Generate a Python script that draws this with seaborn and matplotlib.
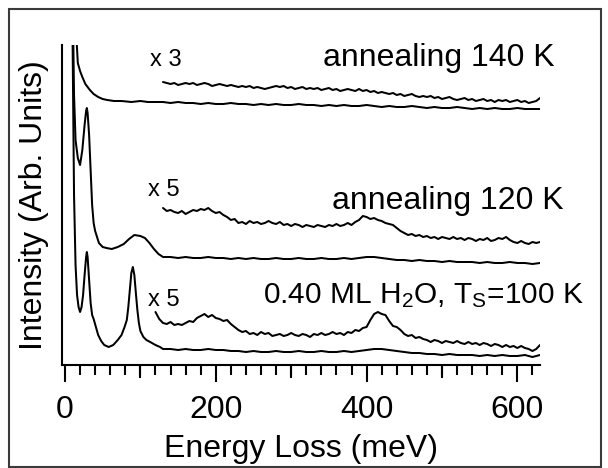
import numpy as np
import matplotlib
matplotlib.use("Agg")
import matplotlib.pyplot as plt
from matplotlib.ticker import MultipleLocator, FixedLocator, NullFormatter
from matplotlib.patches import Rectangle
import seaborn as sns

# ---------------- data (energy loss in meV, intensity in arbitrary units) ----------------
# 0.40 ML H2O, Ts = 100 K : low-energy part (elastic peak, 29 meV and 90 meV losses)
e_100_low = [5, 8, 10, 12, 14, 16, 18, 20, 22, 24, 26, 28, 29, 30, 32, 34, 36, 38, 41, 44, 48,
             52, 58, 64, 70, 75, 79, 82, 84, 86, 88, 90, 92, 94, 96, 98, 100, 104, 108, 113, 120, 126]
i_100_low = [700, 700, 330, 170, 100, 70, 58, 53, 58, 70, 90, 108, 113, 108, 85, 62, 50, 46, 38, 30, 24,
             20, 18, 20, 25, 30, 38, 45, 58, 75, 92, 98, 90, 72, 55, 42, 34, 28, 25, 23, 20, 18]
# tail, 130 ... 630 meV in 10 meV steps
i_100_tail = [16, 16, 15, 16, 15, 15, 16, 15, 15, 14,
              14, 13, 14, 13, 13, 14, 13, 13, 14, 13,
              13, 14, 13, 13, 14, 13, 14, 15, 16, 16,
              15, 14, 13, 12, 12, 11, 11, 10, 11, 10,
              10, 10, 9, 10, 9, 10, 9, 9, 10, 8,
              10]
# x5 magnified trace, 120 ... 630 meV in 5 meV steps
i_100_x5 = [53, 46, 42, 41, 43, 40, 41, 40, 42, 44,
            43, 47, 49, 51, 48, 50, 47, 46, 44, 45,
            41, 38, 35, 33, 34, 31, 32, 30, 33, 31,
            32, 29, 30, 31, 29, 30, 32, 30, 29, 31,
            30, 28, 31, 30, 32, 30, 31, 33, 31, 32,
            30, 33, 32, 35, 34, 37, 38, 45, 51, 53,
            51, 50, 44, 39, 38, 35, 31, 29, 30, 27,
            28, 26, 25, 23, 25, 24, 22, 24, 23, 22,
            24, 22, 21, 23, 21, 22, 20, 22, 21, 19,
            21, 20, 18, 20, 18, 19, 17, 19, 17, 16,
            14, 16, 20]

# annealing 120 K
e_120_low = [5, 8, 10, 12, 14, 17, 20, 23, 26, 28, 29, 30, 32, 34, 36, 38, 40, 45, 50, 55, 62,
             70, 78, 85, 92, 100, 106, 112, 118, 124]
i_120_low = [700, 700, 380, 270, 225, 207, 200, 215, 240, 254, 257, 252, 230, 195, 160, 142, 134, 122, 118, 117, 116,
             118, 121, 126, 130, 129, 127, 122, 116, 111]
i_120_tail = [108, 108, 107, 108, 107, 107, 108, 107, 107, 106,
              107, 106, 107, 106, 106, 107, 106, 106, 107, 106,
              106, 107, 106, 106, 107, 106, 107, 108, 108, 107,
              106, 105, 105, 104, 105, 104, 104, 103, 104, 103,
              103, 103, 102, 103, 102, 102, 103, 102, 102, 101,
              102]
# x5 magnified trace, 130 ... 630 meV in 5 meV steps
i_120_x5 = [157, 154, 155, 153, 152, 154, 151, 153, 155, 154,
            156, 155, 157, 154, 152, 153, 150, 148, 145, 146,
            142, 143, 141, 144, 142, 143, 141, 142, 144, 142,
            141, 143, 140, 141, 139, 141, 140, 138, 140, 139,
            138, 140, 139, 138, 140, 139, 141, 139, 140, 142,
            140, 143, 145, 149, 148, 146, 147, 145, 144, 142,
            141, 140, 137, 134, 132, 130, 131, 129, 130, 128,
            129, 127, 128, 126, 128, 127, 126, 128, 126, 127,
            125, 127, 126, 124, 126, 125, 127, 124, 125, 127,
            126, 128, 125, 123, 122, 124, 122, 121, 123, 122,
            123]

# annealing 140 K
e_140_low = [5, 8, 12, 15, 17, 20, 23, 27, 33, 38, 44, 50, 56, 65, 75, 88, 100, 110, 120]
i_140_low = [700, 700, 450, 330, 302, 294, 288, 281, 275, 271, 268, 266, 265, 264, 264, 263, 264, 263, 263]
i_140_tail = [263, 262, 263, 262, 262, 261, 262, 261, 261, 262,
              261, 261, 260, 261, 260, 261, 260, 260, 261, 260,
              260, 259, 260, 259, 260, 259, 259, 260, 259, 258,
              259, 258, 258, 259, 258, 257, 258, 257, 257, 258,
              257, 256, 257, 256, 257, 256, 256, 257, 256, 256,
              256]
# x3 magnified trace, 130 ... 630 meV in 5 meV steps
i_140_x3 = [283, 282, 281, 282, 280, 281, 282, 281, 282, 280,
            281, 282, 281, 279, 280, 281, 280, 279, 280, 279,
            278, 279, 278, 279, 277, 278, 277, 276, 277, 278,
            279, 278, 279, 277, 278, 276, 277, 278, 276, 277,
            276, 277, 275, 276, 277, 275, 276, 274, 275, 276,
            275, 274, 276, 274, 275, 273, 274, 272, 273, 272,
            271, 272, 270, 271, 269, 270, 271, 269, 268, 269,
            268, 269, 267, 268, 266, 267, 268, 266, 265, 266,
            267, 265, 266, 264, 265, 266, 264, 265, 263, 265,
            264, 265, 263, 264, 265, 263, 264, 262, 263, 264,
            267]

e_tail = np.arange(130, 631, 10)
e_x_from120 = np.arange(120, 631, 5)
e_x_from130 = np.arange(130, 631, 5)

major_ticks = [0, 200, 400, 600]
mid_ticks = [100, 300, 500]

# ---------------- style ----------------
sns.set_style("ticks")
plt.rcParams["font.family"] = ["Liberation Sans", "DejaVu Sans"]
plt.rcParams["mathtext.fontset"] = "custom"
plt.rcParams["mathtext.rm"] = "Liberation Sans"
plt.rcParams["mathtext.it"] = "Liberation Sans:italic"
for key in ("text.color", "axes.labelcolor", "xtick.color", "ytick.color",
            "xtick.labelcolor", "ytick.labelcolor", "axes.edgecolor"):
    plt.rcParams[key] = "black"

fig = plt.figure(figsize=(6.08, 4.68), dpi=100)
ax = fig.add_axes([62.5 / 608, 103 / 468, 477.5 / 608, 320 / 468])

lw = 1.45
curves = [
    (np.r_[e_100_low, e_tail], np.r_[i_100_low, i_100_tail]),
    (e_x_from120, np.array(i_100_x5)),
    (np.r_[e_120_low, e_tail], np.r_[i_120_low, i_120_tail]),
    (e_x_from130, np.array(i_120_x5)),
    (np.r_[e_140_low, e_tail], np.r_[i_140_low, i_140_tail]),
    (e_x_from130, np.array(i_140_x3)),
]
for x, y in curves:
    sns.lineplot(x=x, y=y, ax=ax, color="black", linewidth=lw,
                 estimator=None, sort=False, legend=False)

ax.set_xlim(-3.3, 630)
ax.set_ylim(0, 320)

for side in ("top", "right"):
    ax.spines[side].set_visible(False)
for side in ("left", "bottom"):
    ax.spines[side].set_linewidth(1.5)
    ax.spines[side].set_color("black")

ax.set_yticks([])
ax.xaxis.set_major_locator(FixedLocator(major_ticks))
ax.xaxis.set_minor_locator(MultipleLocator(20))
ax.tick_params(axis="x", which="major", length=12.5, width=1.5, pad=9,
               labelsize=23, color="black", labelcolor="black")
ax.tick_params(axis="x", which="minor", length=7, width=1.5, color="black")

# intermediate ticks every 100 meV
sec = ax.secondary_xaxis("bottom")
sec.xaxis.set_major_locator(FixedLocator(mid_ticks))
sec.xaxis.set_major_formatter(NullFormatter())
sec.tick_params(axis="x", which="major", length=9, width=1.5, color="black")
sec.xaxis.set_minor_locator(FixedLocator([]))
sec.spines["bottom"].set_visible(False)

ax.set_xlabel("Energy Loss (meV)", fontsize=23, color="black")
ax.set_ylabel("Intensity (Arb. Units)", fontsize=23, color="black")
ax.xaxis.set_label_coords(0.5, -0.215)
ax.yaxis.set_label_coords(-0.028, 0.5)

txt = dict(color="black", ha="left", va="center", clip_on=False)
ax.text(113, 305, "x 3", fontsize=17, **txt)
ax.text(342, 307, "annealing 140 K", fontsize=23, **txt)
ax.text(110, 175, "x 5", fontsize=17, **txt)
ax.text(354, 164, "annealing 120 K", fontsize=23, **txt)
ax.text(110, 65, "x 5", fontsize=17, **txt)
ax.text(262, 69, r"0.40 ML H$_2$O, T$_\mathrm{S}$=100 K", fontsize=21.5, **txt)

# frame around the whole figure
fig.patches.append(Rectangle((8.5 / 608, 1.5 / 468), 592 / 608, 457.5 / 468,
                             transform=fig.transFigure, fill=False,
                             edgecolor="#3a3a3a", linewidth=1.5))

fig.savefig("out.png", dpi=100)
